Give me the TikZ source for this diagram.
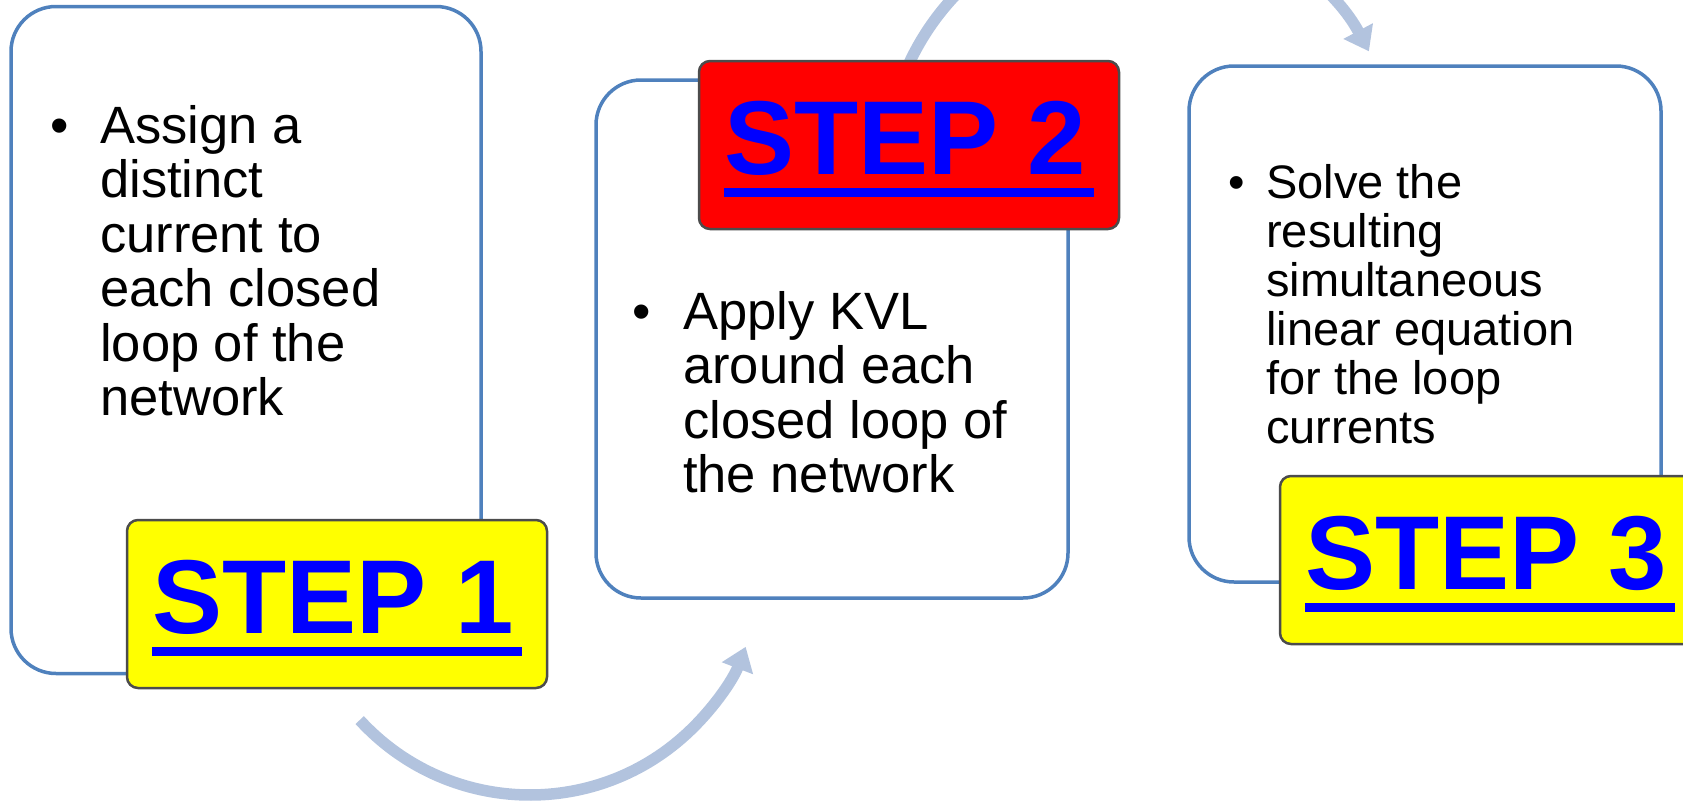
\documentclass[tikz,border=0pt]{standalone}
\usepackage{fontspec}
\setmainfont{Liberation Sans}
\usetikzlibrary{arrows.meta}

\definecolor{loopblue}{RGB}{79,129,189}
\definecolor{arcblue}{RGB}{178,195,222}
\definecolor{stepyellow}{RGB}{255,255,0}

\newcommand\stepfont{\fontsize{105}{110}\selectfont\bfseries}
\newcommand\steplabel[1]{\setbox0\hbox{\stepfont #1}\raisebox{-4pt}[\height][\depth]{\vtop{\copy0\kern13pt\hrule height 9pt width \dimexpr\wd0+8pt\relax}}}
\newcommand\bulletlist[2]{\begin{minipage}[t]{600pt}\hangindent=#1\hangafter=1\noindent\makebox[#1][l]{\textbullet}#2\end{minipage}}

\begin{document}
\begin{tikzpicture}[x=1pt, y=-1pt,
    loopbox/.style={draw=loopblue, line width=3.5pt, fill=white, rounded corners=45pt},
    stepbox/.style={draw=black!70, line width=2.5pt, rounded corners=11pt, minimum width=420, minimum height=168, text=blue, inner sep=0},
    cyclearrow/.style={draw=arcblue, line width=11.5pt, -{Triangle[width=32pt,length=23pt]}},
    bigtext/.style={anchor=base west, inner sep=0, font=\fontsize{52.5}{54.5}\selectfont},
    smalltext/.style={anchor=base west, inner sep=0, font=\fontsize{47}{49}\selectfont}]
          \useasboundingbox (0,0) rectangle (1683,803);
          \clip (0,0) rectangle (1683,803);

          \coordinate (c1) at (530,564);
          \coordinate (c2) at (1142,172);
          \draw[cyclearrow] (c1) ++(137.5:231) arc[start angle=137.5, end angle=21, radius=231];
          \draw[cyclearrow] (c2) ++(-162:257) arc[start angle=-162, end angle=-28, radius=257];

          \node[loopbox, minimum width=470, minimum height=667] (box1) at (246,340) {};
          \node[loopbox, minimum width=472, minimum height=518] (box2) at (832,339) {};
          \node[loopbox, minimum width=472, minimum height=516] (box3) at (1425,324) {};

          \node[bigtext] (txt1) at (50,143) {\bulletlist{50pt}{Assign a\\distinct\\current to\\each closed\\loop of the\\network}};
          \node[bigtext] (txt2) at (632,329) {\bulletlist{51pt}{Apply KVL\\around each\\closed loop of\\the network}};
          \node[smalltext] (txt3) at (1228,198) {\bulletlist{38pt}{Solve the\\resulting\\simultaneous\\linear equation\\for the loop\\currents}};

          \node[stepbox, fill=stepyellow] (step1) at (337,604) {\steplabel{STEP 1}};
          \node[stepbox, fill=red] (step2) at (909,145) {\steplabel{STEP 2}};
          \node[stepbox, fill=stepyellow] (step3) at (1490,560) {\steplabel{STEP 3}};
        \end{tikzpicture}
\end{document}
